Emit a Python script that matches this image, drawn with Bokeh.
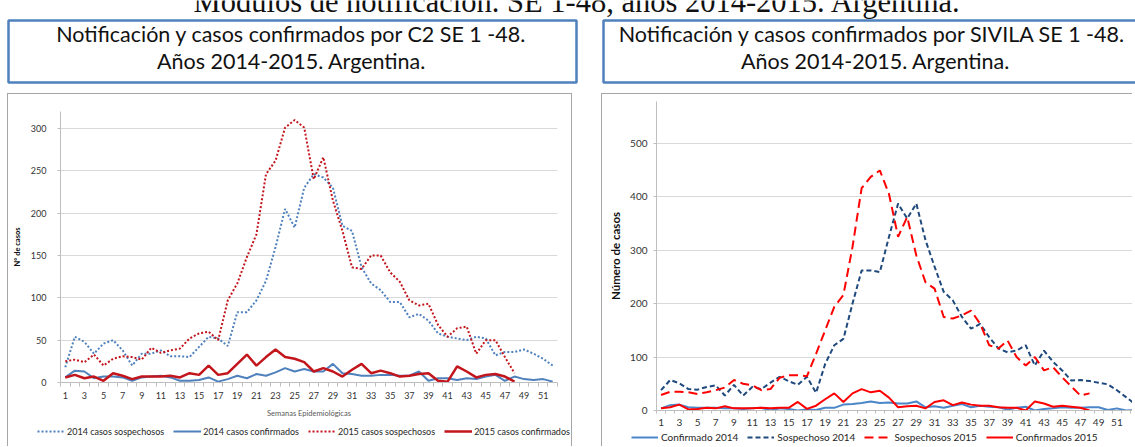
from bokeh.plotting import figure
from bokeh.models import Range1d, FixedTicker, Legend, LegendItem, Label, BoxAnnotation, Spacer
from bokeh.layouts import row, column
from bokeh.embed import file_html
from bokeh.resources import INLINE

FONT = "Lato"

# ---------------- data: C2 (left) ----------------
c2_weeks_2014 = list(range(1, 53))
c2_weeks_2015 = list(range(1, 49))
c2_sosp_2014 = [18, 54, 48, 34, 46, 50, 38, 20, 34, 34,
                38, 31, 31, 30, 42, 54, 52, 43, 83, 83,
                97, 120, 160, 205, 183, 230, 246, 242, 230, 185,
                179, 136, 117, 109, 95, 95, 77, 81, 73, 58,
                54, 52, 50, 54, 52, 32, 36, 36, 39, 34,
                28, 20]
c2_conf_2014 = [6, 14, 13, 5, 7, 7, 6, 2, 6, 7,
                8, 6, 2, 2, 3, 6, 1, 4, 8, 5,
                10, 8, 12, 17, 13, 16, 13, 13, 22, 11,
                10, 8, 8, 9, 9, 8, 8, 13, 2, 5,
                5, 3, 5, 4, 7, 9, 2, 7, 4, 3,
                4, 1]
c2_sosp_2015 = [25, 27, 24, 33, 20, 28, 31, 30, 27, 41,
                35, 38, 40, 52, 58, 60, 50, 97, 117, 148,
                175, 246, 262, 301, 310, 301, 240, 266, 215, 179,
                136, 134, 150, 150, 130, 119, 97, 91, 93, 68,
                54, 64, 66, 34, 50, 50, 30, 11]
c2_conf_2015 = [6, 9, 5, 7, 2, 11, 8, 4, 7, 7,
                7, 8, 6, 11, 9, 20, 9, 11, 22, 33,
                20, 30, 39, 30, 28, 24, 13, 17, 13, 7,
                15, 22, 11, 14, 11, 7, 8, 10, 11, 2,
                1, 19, 13, 6, 9, 10, 7, 1]
c2_yticks = [0, 50, 100, 150, 200, 250, 300]
c2_labels = ["2014 casos sospechosos", "2014 casos confirmados",
             "2015 casos sospechosos", "2015 casos confirmados"]
c2_title = ["Notificación y casos confirmados por C2 SE 1 -48.",
            "Años 2014-2015. Argentina."]

# ---------------- data: SIVILA (right) ----------------
sv_weeks_2014 = list(range(1, 54))
sv_weeks_2015 = list(range(1, 49))
sv_conf_2014 = [4, 10, 11, 6, 5, 5, 5, 4, 4, 3,
                4, 5, 0, 4, 3, 0, 2, 1, 5, 5,
                11, 12, 14, 17, 14, 15, 13, 13, 17, 6,
                8, 5, 9, 12, 6, 9, 7, 6, 2, 5,
                7, 0, 3, 4, 6, 5, 5, 6, 6, 1,
                4, 0, 1]
sv_sosp_2014 = [38, 57, 51, 40, 39, 44, 47, 28, 48, 28,
                44, 40, 52, 63, 55, 48, 63, 33, 87, 122,
                134, 200, 262, 262, 259, 325, 387, 359, 387, 319,
                269, 222, 206, 175, 153, 162, 137, 116, 109, 112,
                122, 84, 112, 91, 75, 56, 57, 55, 52, 49,
                38, 25, 12]
sv_sosp_2015 = [29, 35, 35, 34, 31, 34, 38, 43, 57, 50,
                47, 38, 40, 61, 66, 66, 64, 106, 150, 194,
                216, 306, 416, 437, 449, 405, 325, 362, 290, 240,
                228, 175, 172, 178, 187, 162, 122, 116, 131, 100,
                84, 100, 75, 81, 62, 45, 28, 32]
sv_conf_2015 = [4, 6, 11, 2, 3, 5, 4, 8, 4, 4,
                4, 5, 4, 5, 5, 16, 3, 9, 21, 32,
                16, 32, 40, 34, 37, 24, 6, 8, 9, 4,
                16, 19, 10, 15, 11, 9, 9, 6, 5, 5,
                0, 17, 13, 7, 9, 7, 5, 0]
sv_yticks = [0, 100, 200, 300, 400, 500]
sv_labels = ["Confirmado 2014", "Sospechoso 2014",
             "Sospechosos 2015", "Confirmados 2015"]
sv_title = ["Notificación y casos confirmados por SIVILA SE 1 -48.",
            "Años 2014-2015. Argentina."]

page_header = "Módulos de notificación. SE 1-48, años 2014-2015. Argentina."

# ---------------- series styles ----------------
BLUE_L = "#4f81bd"
RED_L = "#c3151c"
c2_series = [
    (c2_weeks_2014, c2_sosp_2014, dict(line_color=BLUE_L, line_width=2, line_dash="2 2")),
    (c2_weeks_2014, c2_conf_2014, dict(line_color=BLUE_L, line_width=2)),
    (c2_weeks_2015, c2_sosp_2015, dict(line_color=RED_L, line_width=2, line_dash="2 2")),
    (c2_weeks_2015, c2_conf_2015, dict(line_color=RED_L, line_width=2.5)),
]
sv_series = [
    (sv_weeks_2014, sv_conf_2014, dict(line_color="#4a86c8", line_width=2)),
    (sv_weeks_2014, sv_sosp_2014, dict(line_color="#1f497d", line_width=2, line_dash="5 3")),
    (sv_weeks_2015, sv_sosp_2015, dict(line_color="#ff0000", line_width=2, line_dash="9 5")),
    (sv_weeks_2015, sv_conf_2015, dict(line_color="#ff0000", line_width=2)),
]

# ---------------- title strip (boxed titles) ----------------
SW, SH = 1135, 93
tS = figure(width=SW, height=SH, x_range=Range1d(0, SW), y_range=Range1d(0, SH),
            output_backend="svg", toolbar_location=None, min_border=0,
            x_axis_location=None, y_axis_location=None, outline_line_color=None,
            title=None, frame_align=False)
tS.grid.visible = False
tS.add_layout(Label(x=577, y=SH - 1, text=page_header, text_align="center",
                    text_baseline="alphabetic", text_font="Liberation Serif",
                    text_font_size="30.5px", text_color="#111111"))
for (bl, br, cx1, cx2, lines) in [(8, 576, 291, 291, c2_title),
                                  (603, 1150, 872, 875, sv_title)]:
    tS.add_layout(BoxAnnotation(left=bl, right=br, top=SH - 20, bottom=SH - 82,
                                fill_color="white", fill_alpha=1.0,
                                line_color="#4f81bd", line_width=2.5, line_alpha=1.0))
    tS.add_layout(Label(x=cx1, y=SH - 33, text=lines[0], text_align="center",
                        text_baseline="middle", text_font=FONT, text_font_size="21.5px",
                        text_color="#111111"))
    tS.add_layout(Label(x=cx2, y=SH - 60, text=lines[1], text_align="center",
                        text_baseline="middle", text_font=FONT, text_font_size="21.5px",
                        text_color="#111111"))


def odd_ticks(weeks):
    return [w for w in weeks if w % 2 == 1]


def bounds(weeks):
    return [w - 0.5 for w in weeks] + [weeks[-1] + 0.5]


def style_y(ax, ticks, size, standoff, label, label_size, label_standoff):
    ax.ticker = FixedTicker(ticks=ticks)
    ax.major_tick_in = 0
    ax.major_tick_out = 3
    ax.major_tick_line_color = "#bfbfbf"
    ax.minor_tick_line_color = None
    ax.axis_line_color = "#bfbfbf"
    ax.major_label_text_font = FONT
    ax.major_label_text_font_size = size
    ax.major_label_text_color = "#333333"
    ax.major_label_standoff = standoff
    ax.axis_label = label
    ax.axis_label_text_font = FONT
    ax.axis_label_text_font_size = label_size
    ax.axis_label_text_font_style = "bold"
    ax.axis_label_text_color = "#111111"
    ax.axis_label_standoff = label_standoff


def style_x(ax, weeks, size, standoff, tick_out):
    ax.ticker = FixedTicker(ticks=odd_ticks(weeks), minor_ticks=bounds(weeks))
    ax.major_tick_in = 0
    ax.major_tick_out = 0
    ax.minor_tick_in = 0
    ax.minor_tick_out = tick_out
    ax.minor_tick_line_color = "#bfbfbf"
    ax.axis_line_color = "#bfbfbf"
    ax.major_label_text_font = FONT
    ax.major_label_text_font_size = size
    ax.major_label_text_color = "#333333"
    ax.major_label_standoff = standoff


def legend_strip(width, height, series, labels, loc, font_size, glyph_w, standoff, spacing, styles):
    s = figure(width=width, height=height, x_range=Range1d(-1000, -999), y_range=Range1d(-1000, -999),
               output_backend="svg", toolbar_location=None, min_border=0,
               x_axis_location=None, y_axis_location=None, outline_line_color=None,
               title=None, frame_align=False)
    s.grid.visible = False
    s.styles = styles
    rs = [s.line(x, y, **kw) for (x, y, kw) in series]
    leg = Legend(items=[LegendItem(label=lab, renderers=[r]) for lab, r in zip(labels, rs)],
                 orientation="horizontal", location=loc,
                 label_text_font=FONT, label_text_font_size=font_size,
                 label_text_color="#262626", glyph_width=glyph_w, glyph_height=12,
                 label_height=12, label_standoff=standoff, spacing=spacing,
                 padding=0, margin=0, background_fill_alpha=0, border_line_color=None,
                 inactive_fill_alpha=0)
    s.add_layout(leg)
    return s


BORDER = "1px solid #a6a6a6"

# ---------------- left chart ----------------
pL = figure(width=565, height=326, x_range=Range1d(0.5, 52.5), y_range=Range1d(0, 320),
            output_backend="svg", toolbar_location=None, title=None, frame_align=False,
            min_border_left=52, min_border_right=16, min_border_top=17, min_border_bottom=38,
            outline_line_color=None)
pL.styles = {"border-top": BORDER, "border-left": BORDER, "border-right": BORDER}
pL.xgrid.visible = False
pL.ygrid.grid_line_color = "#d9d9d9"

style_x(pL.xaxis[0], c2_weeks_2014, "9px", 5, 4)
pL.xaxis[0].axis_label = "Semanas Epidemiológicas"
pL.xaxis[0].axis_label_text_font = FONT
pL.xaxis[0].axis_label_text_font_size = "7.5px"
pL.xaxis[0].axis_label_text_font_style = "normal"
pL.xaxis[0].axis_label_text_color = "#595959"
pL.xaxis[0].axis_label_standoff = 7
style_y(pL.yaxis[0], c2_yticks, "9px", 11, "N° de casos", "7.5px", 6)

for (x, y, kw) in c2_series:
    pL.line(x, y, **kw)

legL = legend_strip(565, 27, c2_series, c2_labels, (29, 9), "9px", 28, 2, 9,
                    {"border-left": BORDER, "border-right": BORDER})

# ---------------- right chart ----------------
pR = figure(width=531, height=334, x_range=Range1d(0.5, 52.82), y_range=Range1d(0, 578),
            output_backend="svg", toolbar_location=None, title=None, frame_align=False,
            min_border_left=54, min_border_right=0, min_border_top=7, min_border_bottom=18,
            outline_line_color=None)
pR.styles = {"border-top": BORDER, "border-left": BORDER}
pR.xgrid.visible = False
pR.ygrid.grid_line_color = "#d9d9d9"

style_x(pR.xaxis[0], sv_weeks_2014, "10px", 5, 3)
style_y(pR.yaxis[0], sv_yticks, "10px", 6, "Número de casos", "11.5px", 5)

for (x, y, kw) in sv_series:
    pR.line(x, y, **kw)

legR = legend_strip(531, 19, sv_series, sv_labels, (29, 3), "10px", 27, 3, 9,
                    {"border-left": BORDER})

layout = column(tS, row(Spacer(width=7), column(pL, legL), Spacer(width=29), column(pR, legR)))
open("out.html", "w").write(file_html(layout, INLINE))
